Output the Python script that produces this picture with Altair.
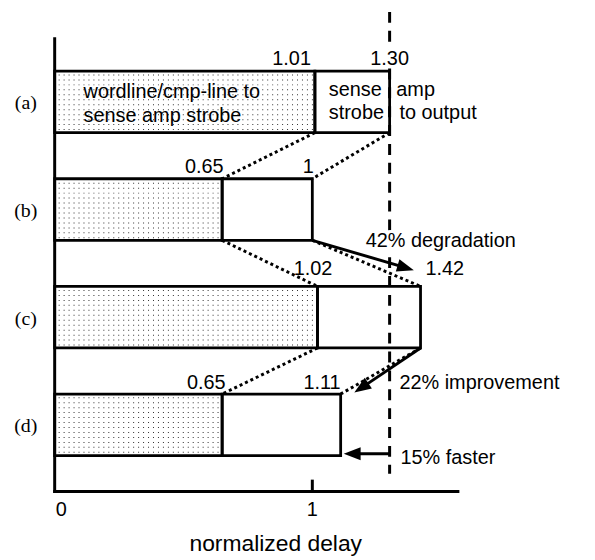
import altair as alt
import numpy as np
import pandas as pd

# ---------------- data ----------------
rows = ["(a)", "(b)", "(c)", "(d)"]
row_pos = [3, 2, 1, 0]
strobe_end = [1.01, 0.65, 1.02, 0.65]      # wordline/cmp-line to sense amp strobe
total_delay = [1.30, 1.00, 1.42, 1.11]     # + sense amp strobe to output
strobe_text = ["1.01", "0.65", "1.02", "0.65"]
total_text = ["1.30", "1", "1.42", "1.11"]
tick_values = [0, 1]
tick_labels = ["0", "1"]
axis_title = "normalized delay"
reference_delay = 1.30
notes = ["42% degradation", "22% improvement", "15% faster"]

# ---------------- layout ----------------
W, H = 406, 456
XMAX = 1.565
YMIN, YMAX = -0.62, 3.587
HALF = 0.286
PXX = W / XMAX
PXY = H / (YMAX - YMIN)


def px(d):
    return d / PXX


def py(d):
    return d / PXY


FONT = "Liberation Sans"
SERIF = "Liberation Serif"
xs = alt.Scale(domain=[0, XMAX], nice=False, zero=False)
ys = alt.Scale(domain=[YMIN, YMAX], nice=False, zero=False)

# bars
bar_rows = []
for r, p, s, t in zip(rows, row_pos, strobe_end, total_delay):
    bar_rows.append(dict(row=r, x=0.0, x2=s, y=p - HALF, y2=p + HALF))
    bar_rows.append(dict(row=r, x=s, x2=t, y=p - HALF, y2=p + HALF))
bars_df = pd.DataFrame(bar_rows)

# stipple texture of the first segment (dots on the pixel grid)
dot_rows = []
for p, s in zip(row_pos, strobe_end):
    x_end = s * PXX - 2
    top_px = (YMAX - (p + HALF)) * PXY
    bot_px = (YMAX - (p - HALF)) * PXY
    for kx in np.arange(4, x_end, 5):
        for ky in np.arange(np.ceil(top_px) + 3, bot_px - 2, 5):
            dot_rows.append(dict(x=(kx + 0.5) / PXX, y=YMAX - (ky + 0.5) / PXY))
dots_df = pd.DataFrame(dot_rows)

# dotted connectors between consecutive bars
conn = []
for i in range(3):
    for vals in (strobe_end, total_delay):
        conn.append(dict(x=vals[i], y=row_pos[i] - HALF, x2=vals[i + 1], y2=row_pos[i + 1] + HALF))
conn_df = pd.DataFrame(conn)

# value labels above bars: (row index, which, align, dx px, dy px)
label_specs = [
    (0, "s", "right", -4, -6.6), (0, "t", "center", 0, -6.6),
    (1, "s", "right", 1.5, -6), (1, "t", "right", 1.5, -6),
    (2, "s", "center", -4.5, -11.4), (2, "t", "left", 5, -11.4),
    (3, "s", "right", 3.5, -5), (3, "t", "right", 0, -5),
]
vl = []
for i, w, al, dx, dy in label_specs:
    val = strobe_end[i] if w == "s" else total_delay[i]
    txt = strobe_text[i] if w == "s" else total_text[i]
    vl.append(dict(text=txt, x=val + px(dx), y=row_pos[i] + HALF - py(dy), align=al,
                   halo=(txt == "1.30")))

# free text (annotations and in-bar descriptions)
free = [
    dict(text=notes[0], x=1.207, y=1.650, align="left", halo=True),
    dict(text=notes[1], x=1.338, y=0.330, align="left", halo=False),
    dict(text=notes[2], x=1.342, y=-0.362, align="left", halo=False),
    dict(text="wordline/cmp-line to", x=0.112, y=3.034, align="left", halo=False),
    dict(text="sense amp strobe", x=0.112, y=2.812, align="left", halo=False),
    dict(text="sense", x=1.064, y=3.052, align="left", halo=False),
    dict(text="amp", x=1.326, y=3.052, align="left", halo=False),
    dict(text="strobe", x=1.064, y=2.840, align="left", halo=False),
    dict(text="to output", x=1.338, y=2.840, align="left", halo=False),
]
# axis tick labels
ticklab = [
    dict(text=tick_labels[0], x=tick_values[0] + px(1), y=YMIN - py(25), align="left", halo=False),
    dict(text=tick_labels[1], x=tick_values[1], y=YMIN - py(25), align="center", halo=False),
]
all_text = pd.DataFrame(vl + free + ticklab)

row_df = pd.DataFrame(dict(text=rows, x=[-0.112] * 4, y=[p - py(1.5) for p in row_pos]))
title_df = pd.DataFrame(dict(text=[axis_title], x=[0.858], y=[YMIN - py(60)]))

dash_df = pd.DataFrame(dict(x=[reference_delay], y=[YMAX + py(27)], y2=[YMIN + py(18)]))
tick_df = pd.DataFrame(dict(x=[1.0], y=[YMIN], y2=[YMIN + py(12)]))
axes_df = pd.DataFrame(dict(x=[0.0, 0.0], x2=[0.0, XMAX], y=[YMIN, YMIN], y2=[YMAX, YMIN]))

arrows_df = pd.DataFrame(dict(
    x=[total_delay[1], total_delay[2], reference_delay],
    y=[row_pos[1] - HALF, row_pos[2] - HALF, -0.269],
    x2=[1.365, 1.189, 1.153],
    y2=[1.458, 0.341, -0.269],
    tx=[1.394, 1.163, 1.122],
    ty=[1.437, 0.300, -0.269],
    ang=[106.3, 236.0, 270.0],
))

X = lambda f="x": alt.X(f"{f}:Q", scale=xs, axis=None)
Y = lambda f="y": alt.Y(f"{f}:Q", scale=ys, axis=None)

dots = alt.Chart(dots_df).mark_square(size=1, color="#333333", opacity=1, strokeWidth=0).encode(
    x=X(), y=Y())

connectors = alt.Chart(conn_df).mark_rule(color="black", strokeWidth=3, strokeDash=[3, 3]).encode(
    x=X(), y=Y(), x2="x2:Q", y2="y2:Q")

bars = alt.Chart(bars_df).mark_rect(fill="transparent", stroke="black", strokeWidth=2.8).encode(
    x=X(), x2="x2:Q", y=Y(), y2="y2:Q")

axes = alt.Chart(axes_df).mark_rule(color="black", strokeWidth=3, strokeCap="square").encode(
    x=X(), x2="x2:Q", y=Y(), y2="y2:Q")

dash = alt.Chart(dash_df).mark_rule(color="black", strokeWidth=3, strokeDash=[11, 8]).encode(
    x=X(), y=Y(), y2="y2:Q")

tick = alt.Chart(tick_df).mark_rule(color="black", strokeWidth=3).encode(x=X(), y=Y(), y2="y2:Q")

shafts = alt.Chart(arrows_df).mark_rule(color="black", strokeWidth=3).encode(
    x=X(), y=Y(), x2="x2:Q", y2="y2:Q")
heads = alt.Chart(arrows_df).mark_point(
    shape="M0,0L0.38,1L-0.38,1Z", size=1156, filled=True, color="black", opacity=1, strokeWidth=0
).encode(x=X("tx"), y=Y("ty"), angle=alt.Angle("ang:Q", scale=None))

halo_layers = []
text_layers = []
for al in ["left", "center", "right"]:
    halo_layers.append(
        alt.Chart(all_text).transform_filter((alt.datum.align == al) & alt.datum.halo).mark_text(
            align=al, baseline="alphabetic", font=FONT, fontSize=20, color="white",
            stroke="white", strokeWidth=6
        ).encode(x=X(), y=Y(), text="text:N")
    )
    text_layers.append(
        alt.Chart(all_text).transform_filter(alt.datum.align == al).mark_text(
            align=al, baseline="alphabetic", font=FONT, fontSize=20, color="black"
        ).encode(x=X(), y=Y(), text="text:N")
    )

row_text = alt.Chart(row_df).mark_text(align="center", baseline="middle", font=SERIF, fontSize=20,
                                       color="black").encode(x=X(), y=Y(), text="text:N")
title_text = alt.Chart(title_df).mark_text(align="center", baseline="alphabetic", font=FONT, fontSize=23,
                                           color="black").encode(x=X(), y=Y(), text="text:N")

chart = alt.layer(
    dots, connectors, bars, axes, dash, tick, shafts, heads, *halo_layers, *text_layers,
    row_text, title_text
).properties(
    width=W, height=H,
    autosize=alt.AutoSizeParams(type="none"),
    padding={"left": 47, "top": 29, "right": 130, "bottom": 66},
    background="white",
).configure_view(strokeWidth=0, stroke="transparent")

chart.save("out.html", embed_options={"renderer": "svg", "actions": False})
